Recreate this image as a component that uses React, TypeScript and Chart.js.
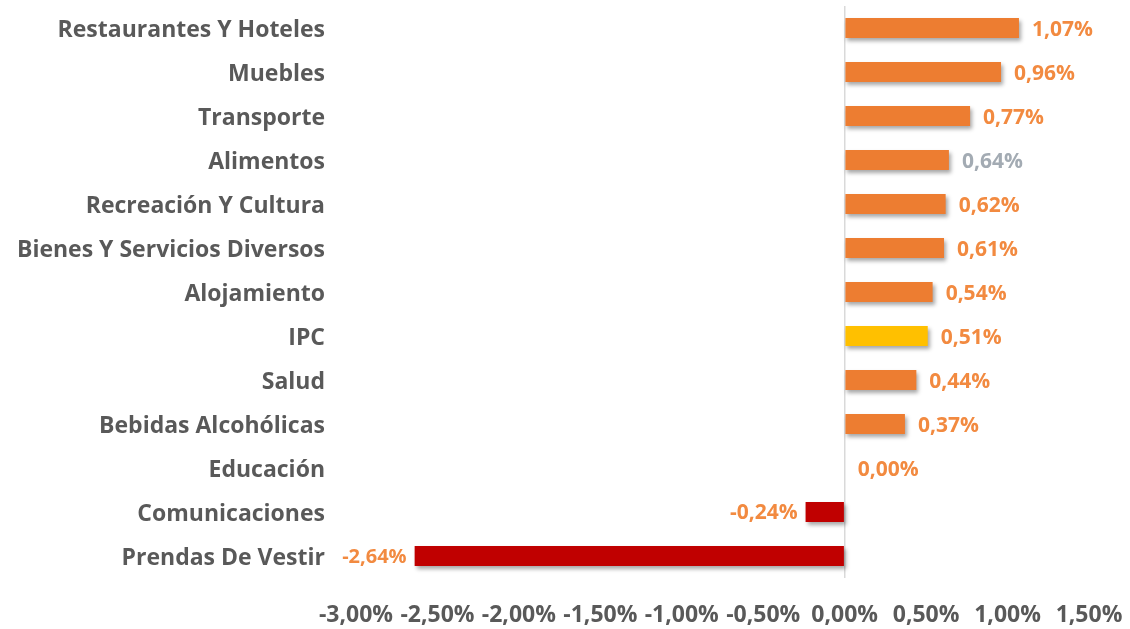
import React, { useEffect, useRef } from "react";
import { Chart, registerables } from "chart.js";

Chart.register(...registerables);

const categories = [
  "Restaurantes Y Hoteles",
  "Muebles",
  "Transporte",
  "Alimentos",
  "Recreación Y Cultura",
  "Bienes Y Servicios Diversos",
  "Alojamiento",
  "IPC",
  "Salud",
  "Bebidas Alcohólicas",
  "Educación",
  "Comunicaciones",
  "Prendas De Vestir",
];

const values = [1.07, 0.96, 0.77, 0.64, 0.62, 0.61, 0.54, 0.51, 0.44, 0.37, 0.0, -0.24, -2.64];

const xTicks = [-3, -2.5, -2, -1.5, -1, -0.5, 0, 0.5, 1, 1.5];

const ORANGE = "#ED7D31";
const YELLOW = "#FFC000";
const RED = "#C00000";
const LABEL_ORANGE = "#F28A40";
const LABEL_GRAY = "#A3ABB3";
const TEXT = "#595959";
const FONT = "'Open Sans', Lato, sans-serif";

const fmt = (v: number) => {
  const s = Math.abs(v).toFixed(2).replace(".", ",");
  return (v < 0 ? "-" : "") + s + "%";
};

const barColor = (v: number, i: number) =>
  categories[i] === "IPC" ? YELLOW : v < 0 ? RED : ORANGE;

const shadowPlugin = {
  id: "barShadow",
  beforeDatasetDraw(chart: any) {
    const ctx = chart.ctx;
    ctx.save();
    ctx.shadowColor = "rgba(0,0,0,0.35)";
    ctx.shadowBlur = 4;
    ctx.shadowOffsetX = 2;
    ctx.shadowOffsetY = 3;
  },
  afterDatasetDraw(chart: any) {
    chart.ctx.restore();
  },
};

const valueLabelPlugin = {
  id: "valueLabels",
  afterDatasetsDraw(chart: any) {
    const ctx = chart.ctx;
    const meta = chart.getDatasetMeta(0);
    ctx.save();
    ctx.textBaseline = "middle";
    meta.data.forEach((el: any, i: number) => {
      const v = values[i];
      ctx.fillStyle = categories[i] === "Alimentos" ? LABEL_GRAY : LABEL_ORANGE;
      if (v < 0) {
        ctx.font = i === values.length - 1 ? `bold 20px ${FONT}` : `bold 21px ${FONT}`;
        ctx.textAlign = "right";
        ctx.fillText(fmt(v), el.x - 8, el.y + 1);
      } else {
        ctx.font = `bold 21px ${FONT}`;
        ctx.textAlign = "left";
        ctx.fillText(fmt(v), el.x + 13, el.y + 2);
      }
    });
    ctx.restore();
  },
};

export default function App() {
  const ref = useRef<HTMLCanvasElement | null>(null);

  useEffect(() => {
    document.body.style.margin = "0";
    const canvas = ref.current;
    if (!canvas) return;
    const chart = new Chart(canvas, {
      type: "bar",
      data: {
        labels: categories,
        datasets: [
          {
            data: values,
            backgroundColor: values.map((v, i) => barColor(v, i)),
            borderWidth: 0,
            barPercentage: 0.92,
            categoryPercentage: 0.5,
          },
        ],
      },
      options: {
        indexAxis: "y",
        animation: false,
        responsive: false,
        maintainAspectRatio: false,
        layout: { padding: { top: 6, right: 41, bottom: 0, left: 0 } },
        plugins: {
          legend: { display: false },
          tooltip: { enabled: false },
        },
        scales: {
          x: {
            min: -3,
            max: 1.5,
            afterBuildTicks: (scale: any) => {
              scale.ticks = xTicks.map((v) => ({ value: v }));
            },
            afterFit: (scale: any) => {
              scale.height = 51;
              scale.paddingLeft = 0;
              scale.paddingRight = 0;
              scale.paddingTop = 0;
              scale.paddingBottom = 0;
            },
            ticks: {
              autoSkip: false,
              maxRotation: 0,
              minRotation: 0,
              padding: 0,
              color: TEXT,
              font: { family: FONT, size: 23, weight: "bold" },
              callback: (v: any) => fmt(Number(v)),
            },
            grid: {
              drawTicks: true,
              tickLength: 24,
              tickColor: "rgba(0,0,0,0)",
              color: (c: any) => (c.tick && c.tick.value === 0 ? "#D9D9D9" : "rgba(0,0,0,0)"),
              lineWidth: 1.5,
            },
            border: { display: false },
          },
          y: {
            afterFit: (scale: any) => {
              scale.width = 356;
              scale.paddingLeft = 0;
              scale.paddingRight = 0;
              scale.paddingTop = 0;
              scale.paddingBottom = 0;
            },
            ticks: {
              padding: 0,
              labelOffset: 2,
              color: TEXT,
              font: { family: FONT, size: 23, weight: "bold" },
            },
            grid: {
              display: true,
              drawOnChartArea: false,
              drawTicks: true,
              tickLength: 31,
              color: "rgba(0,0,0,0)",
              tickColor: "rgba(0,0,0,0)",
            },
            border: { display: false },
          },
        },
      },
      plugins: [shadowPlugin, valueLabelPlugin],
    } as any);
    return () => chart.destroy();
  }, []);

  return (
    <div style={{ position: "fixed", left: 0, top: 0, width: 1130, height: 629, background: "#fff" }}>
      <canvas ref={ref} width={1130} height={629} style={{ display: "block" }} />
    </div>
  );
}
